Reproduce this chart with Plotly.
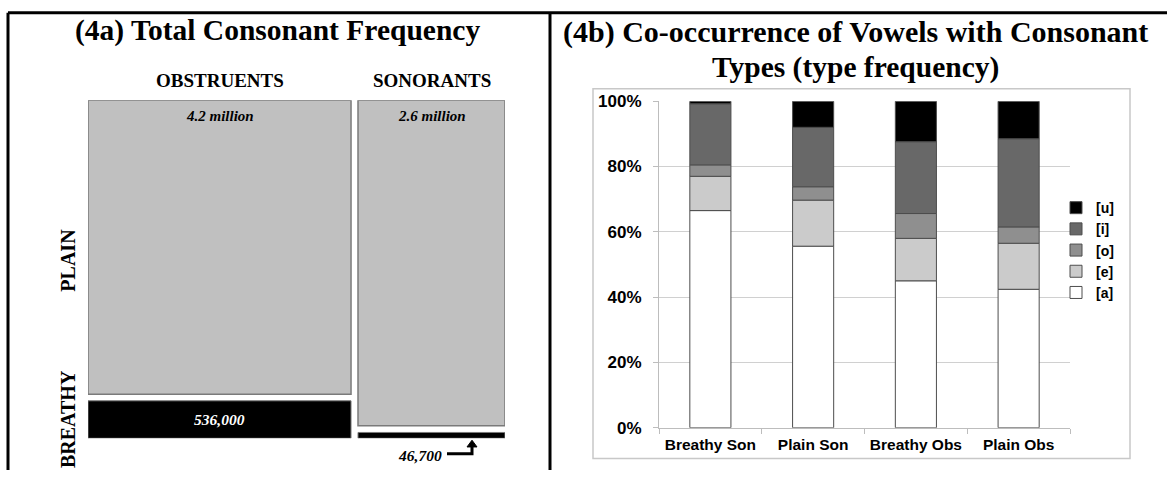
import plotly.graph_objects as go
import numpy as np

# ---------------- Panel (4a): total consonant frequency ----------------
manner = ["OBSTRUENTS", "SONORANTS"]
plain_counts = [4_200_000, 2_600_000]
breathy_counts = [536_000, 46_700]
plain_labels = ["4.2 million", "2.6 million"]
breathy_labels = ["536,000", "46,700"]

# ---------------- Panel (4b): vowel co-occurrence (percent) ----------------
groups = ["Breathy Son", "Plain Son", "Breathy Obs", "Plain Obs"]
vowels = ["[a]", "[e]", "[o]", "[i]", "[u]"]
share_a = [66.5, 55.6, 45.0, 42.4]
share_e = [10.5, 14.1, 13.0, 14.1]
share_o = [3.5, 4.1, 7.6, 5.0]
share_i = [18.7, 18.2, 22.0, 27.0]
share_u = [0.8, 8.0, 12.4, 11.5]

W, H = 1167, 480


def px(x):
    return x / W


def py(y):
    return 1 - y / H


SERIF = "Liberation Serif"
SANS = "Liberation Sans"

fig = go.Figure()

# ---- mosaic geometry from counts ----
plain_arr = np.array(plain_counts, float)
breathy_arr = np.array(breathy_counts, float)
totals = plain_arr + breathy_arr
col_w = totals / totals.sum()
gx, gy = 0.017, 0.02
col_x0 = np.array([0.0, col_w[0] + gx])
centers = col_x0 + col_w / 2
breathy_h = breathy_arr / totals
plain_h = plain_arr / totals
plain_base = breathy_h + gy

fig.add_trace(go.Bar(
    x=centers, y=plain_h, base=plain_base, width=col_w,
    marker=dict(color="#c0c0c0", line=dict(color="#7a7a7a", width=1.5)),
    xaxis="x2", yaxis="y2", showlegend=False, hoverinfo="skip"))
fig.add_trace(go.Bar(
    x=centers, y=breathy_h, base=[0, 0], width=col_w,
    marker=dict(color="#000000", line=dict(color="#7a7a7a", width=1)),
    xaxis="x2", yaxis="y2", showlegend=False, hoverinfo="skip"))

# ---- stacked percentage bars ----
colors = ["#ffffff", "#cbcbcb", "#8f8f8f", "#686868", "#000000"]
series = [share_a, share_e, share_o, share_i, share_u]
base = np.zeros(len(groups))
for name, vals, col in zip(vowels, series, colors):
    v = np.array(vals) / 100.0
    fig.add_trace(go.Bar(
        x=groups, y=v, base=base.copy(), name=name,
        marker=dict(color=col, line=dict(color="#4d4d4d", width=1)),
        xaxis="x", yaxis="y"))
    base = base + v

fig.update_layout(
    width=W, height=H, margin=dict(l=0, r=0, t=0, b=0),
    paper_bgcolor="white", plot_bgcolor="white",
    barmode="overlay", bargap=0.6,
    showlegend=True,
    legend=dict(x=px(1056), xanchor="left", y=py(251), yanchor="middle",
                traceorder="reversed", bgcolor="rgba(0,0,0,0)",
                font=dict(family=SANS, size=14, color="black", weight="bold"),
                itemwidth=30),
    xaxis=dict(domain=[px(659), px(1070)], showline=True, linecolor="#bdbdbd",
               ticks="outside", tickson="boundaries", ticklen=5, tickcolor="#bdbdbd",
               showgrid=False, fixedrange=True, ticklabelstandoff=3,
               tickfont=dict(family=SANS, size=15.5, color="black", weight="bold")),
    yaxis=dict(domain=[py(436), py(96)], range=[0, 1], dtick=0.2, tickformat=".0%",
               showline=True, linecolor="#bdbdbd", ticks="outside", ticklen=5,
               tickcolor="#bdbdbd", gridcolor="#d0d0d0", zeroline=False,
               ticklabelstandoff=8,
               tickfont=dict(family=SANS, size=17, color="black", weight="bold")),
    xaxis2=dict(domain=[px(88), px(505)], range=[0, 1 + gx], visible=False),
    yaxis2=dict(domain=[py(447), py(95)], range=[0, 1 + gy], visible=False,
                anchor="x2"),
)

ann = []
# titles
ann.append(dict(text="<b>(4a) Total Consonant Frequency</b>", x=px(277), y=py(22),
                font=dict(family=SERIF, size=29.5, color="black")))
ann.append(dict(text="<b>(4b) Co-occurrence of Vowels with Consonant</b>", x=px(855), y=py(24),
                font=dict(family=SERIF, size=30, color="black")))
ann.append(dict(text="<b>Types (type frequency)</b>", x=px(855), y=py(61),
                font=dict(family=SERIF, size=29.5, color="black")))
for a in ann:
    a.update(xref="paper", yref="paper", showarrow=False, xanchor="center", yanchor="middle")

# column headings
for c, lab in zip(centers, manner):
    ann.append(dict(text=f"<b>{lab}</b>", x=c, xref="x2", y=py(74), yref="paper",
                    xanchor="center", yanchor="middle",
                    showarrow=False, font=dict(family=SERIF, size=19, color="black")))
# counts in plain cells
for c, top, lab in zip(centers, plain_base + plain_h, plain_labels):
    ann.append(dict(text=f"<b><i>{lab}</i></b>", x=c, xref="x2", y=top, yref="y2",
                    xanchor="center", yanchor="top", yshift=-6, showarrow=False,
                    font=dict(family=SERIF, size=15, color="black")))
# counts in breathy cells
for c, h, lab in zip(centers, breathy_h, breathy_labels):
    if h > 0.05:
        ann.append(dict(text=f"<b><i>{lab}</i></b>", x=c, xref="x2", y=h / 2, yref="y2",
                        xanchor="center", yanchor="middle",
                        showarrow=False, font=dict(family=SERIF, size=15.5, color="white")))
    else:
        ann.append(dict(text=f"<b><i>{lab}</i></b>", x=c, xref="x2", y=0, yref="y2",
                        xanchor="right", xshift=12, yanchor="top", yshift=-7,
                        showarrow=False, font=dict(family=SERIF, size=15.5, color="black")))
# row labels
ann.append(dict(text="<b>PLAIN</b>", x=px(68), y=py(262), xref="paper", yref="paper",
                xanchor="center", yanchor="middle",
                textangle=-90, showarrow=False, font=dict(family=SERIF, size=20, color="black")))
ann.append(dict(text="<b>BREATHY</b>", x=px(68), y=py(427), xref="paper", yref="paper",
                xanchor="center", yanchor="middle",
                textangle=-90, showarrow=False, font=dict(family=SERIF, size=20, color="black")))
fig.update_layout(annotations=ann)

shapes = []
# panel frames
for x0, y0, x1, y1 in [(8, 4, 1167, 4), (8, 4, 8, 480), (550, 4, 550, 480)]:
    shapes.append(dict(type="line", xref="paper", yref="paper",
                       x0=px(x0), y0=py(y0), x1=px(x1), y1=py(y1),
                       line=dict(color="black", width=3)))
# chart frame of (4b)
shapes.append(dict(type="rect", xref="paper", yref="paper",
                   x0=px(593), y0=py(83), x1=px(1130), y1=py(468),
                   line=dict(color="#c8c8c8", width=1.5), layer="below"))
# bent arrow next to the small breathy sonorant count
path = f"M {px(447)},{py(463)} L {px(472)},{py(463)} L {px(472)},{py(455)}"
shapes.append(dict(type="path", xref="paper", yref="paper", path=path,
                   line=dict(color="black", width=3)))
tri = f"M {px(467)},{py(456)} L {px(477)},{py(456)} L {px(472)},{py(449)} Z"
shapes.append(dict(type="path", xref="paper", yref="paper", path=tri,
                   fillcolor="black", line=dict(color="black", width=1)))
fig.update_layout(shapes=shapes)

fig.write_html(
    "out.html",
    config={"displayModeBar": False},
    post_script=(
        "document.documentElement.style.margin='0';"
        "document.body.style.margin='0';document.body.style.padding='0';"
        "document.body.style.overflow='hidden';"
        "document.documentElement.style.overflow='hidden';"
        "var gd=document.getElementsByClassName('plotly-graph-div')[0];"
        "gd.style.position='fixed';gd.style.top='0px';gd.style.left='0px';"
    ),
)
